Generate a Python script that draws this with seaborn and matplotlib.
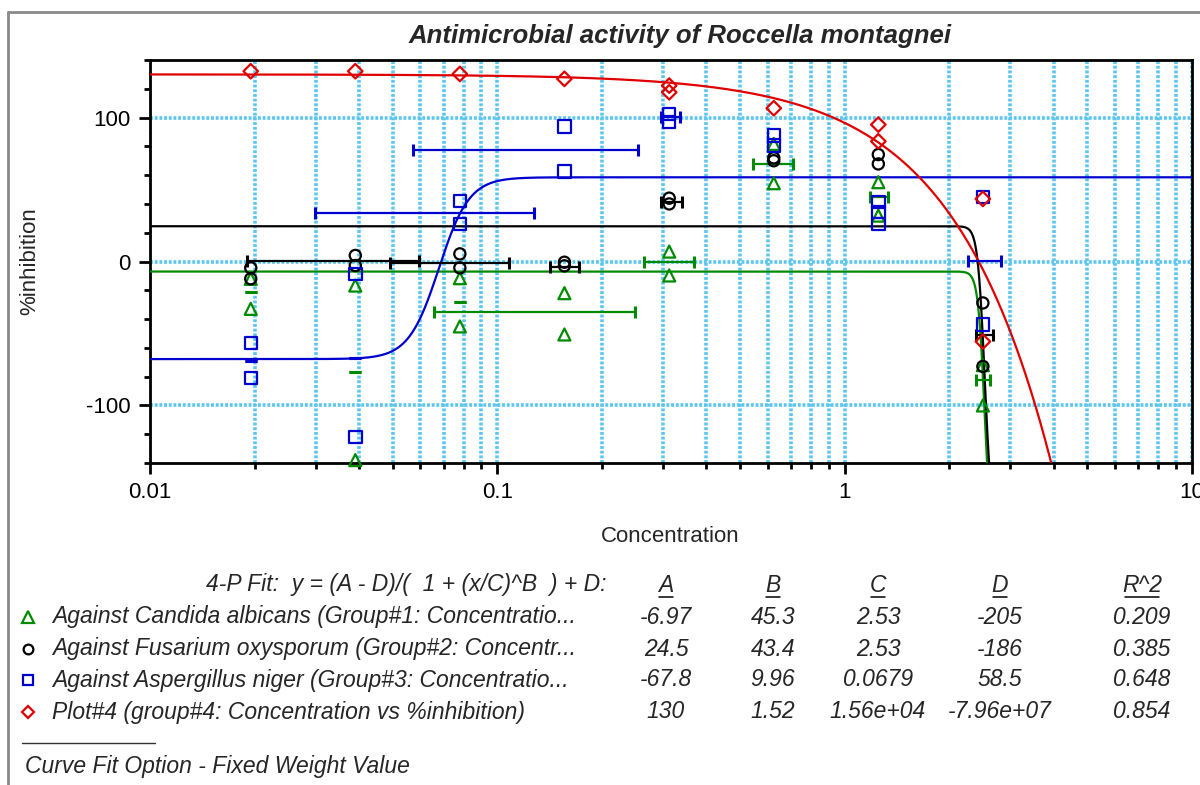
import numpy as np
import pandas as pd
import matplotlib
matplotlib.use("Agg")
import matplotlib.pyplot as plt
import seaborn as sns
from matplotlib.lines import Line2D
from matplotlib.ticker import FixedLocator, LogLocator, NullFormatter, MultipleLocator, FixedFormatter

# ---------------- data ----------------
candida_x = [0.0195, 0.0195, 0.039, 0.039, 0.078, 0.078, 0.156, 0.156,
             0.3125, 0.3125, 0.625, 0.625, 1.25, 1.25, 2.5, 2.5]
candida_y = [-12, -32.9, -16.7, -138, -11.6, -45.1, -22, -50.7,
             6.9, -9.7, 81.7, 54.4, 55.1, 31.9, -72, -100]

fusarium_x = [0.0195, 0.0195, 0.039, 0.039, 0.078, 0.078, 0.156, 0.156,
              0.3125, 0.3125, 0.625, 0.625, 1.25, 1.25, 2.5, 2.5]
fusarium_y = [-4.4, -12, 4.2, -2.8, 5.3, -4.4, -0.5, -3,
              44, 40, 72, 70, 74.3, 67.8, -28.8, -72.9]

asper_x = [0.0195, 0.0195, 0.039, 0.039, 0.078, 0.078, 0.156, 0.156,
           0.3125, 0.3125, 0.625, 0.625, 1.25, 1.25, 1.25, 2.5, 2.5]
asper_y = [-56.5, -81, -8.6, -122, 41.9, 26.2, 93.8, 62.5,
           102.5, 96.8, 87.5, 80.6, 41.2, 34.3, 26.2, 44.7, -43.8]

plot4_x = [0.0195, 0.039, 0.078, 0.156, 0.3125, 0.3125, 0.625, 1.25, 1.25, 2.5, 2.5]
plot4_y = [132.2, 132.2, 130.3, 126.9, 122.2, 117.6, 106.5, 95.1, 83.5, 43.5, -55.6]

# horizontal error bars: (x low, x high, y)
candida_bar_lo = [0.0658, 0.2641, 0.5442, 1.183, 2.39]
candida_bar_hi = [0.2487, 0.3679, 0.7096, 1.336, 2.62]
candida_bar_y = [-35.2, -0.5, 67.4, 44.7, -82.6]

fusarium_bar_lo = [0.01907, 0.04916, 0.1421, 0.295, 2.386]
fusarium_bar_hi = [0.05933, 0.1078, 0.1715, 0.3403, 2.665]
fusarium_bar_y = [0.2, -0.9, -3.5, 41.2, -51.4]

asper_bar_lo = [0.0573, 0.02988, 0.295, 2.26]
asper_bar_hi = [0.2549, 0.1272, 0.3366, 2.816]
asper_bar_y = [77.5, 33.5, 100.2, 0.2]

# zero-length vertical error bars (caps only)
candida_dash_x = [0.0195, 0.039, 0.078]
candida_dash_y = [-21.3, -76.9, -28]
asper_dash_x = [0.0195, 0.039]
asper_dash_y = [-68.8, -66.7]

# 4-parameter fit results
series_names = ["Against Candida albicans (Group#1: Concentratio...",
                "Against Fusarium oxysporum (Group#2: Concentr...",
                "Against Aspergillus niger (Group#3: Concentratio...",
                "Plot#4 (group#4: Concentration vs %inhibition)"]
fit_A = [-6.97, 24.5, -67.8, 130]
fit_B = [45.3, 43.4, 9.96, 1.52]
fit_C = [2.53, 2.53, 0.0679, 1.56e4]
fit_D = [-205, -186, 58.5, -7.96e7]
fit_R2 = [0.209, 0.385, 0.648, 0.854]
table_A = ["-6.97", "24.5", "-67.8", "130"]
table_B = ["45.3", "43.4", "9.96", "1.52"]
table_C = ["2.53", "2.53", "0.0679", "1.56e+04"]
table_D = ["-205", "-186", "58.5", "-7.96e+07"]
table_R2 = ["0.209", "0.385", "0.648", "0.854"]
table_headers = ["A", "B", "C", "D", "R^2"]

x_ticks = [0.01, 0.1, 1, 10]
x_ticklabels = ["0.01", "0.1", "1", "10"]
y_ticks = [-100, 0, 100]

# ---------------- style ----------------
sns.set_theme(style="white")
plt.rcParams["font.family"] = ["Liberation Sans", "DejaVu Sans"]
plt.rcParams["axes.unicode_minus"] = False

colors = ["#008a00", "#000000", "#0000d0", "#e00000"]
markers = ["^", "o", "s", "D"]
msizes = [75, 65, 80, 55]

W, H = 1200, 785
def fx(px):
    return px / W
def fy(py):
    return 1 - py / H

fig = plt.figure(figsize=(12, 7.85), dpi=100)
ax = fig.add_axes([fx(150), fy(463), fx(1192) - fx(150), fy(60) - fy(463)])

ax.set_xscale("log")
ax.set_xlim(0.01, 10)
ax.set_ylim(-140, 140)

grid_color = "#5cc6ee"
ax.set_axisbelow(True)
ax.grid(which="major", axis="both", color=grid_color, lw=2.6, ls=(0, (0.8, 0.5)))
ax.grid(which="minor", axis="x", color=grid_color, lw=2.6, ls=(0, (0.8, 0.5)))

# fitted curves
xs = np.logspace(-2, 1, 6000)
for i in range(4):
    ys = (fit_A[i] - fit_D[i]) / (1 + (xs / fit_C[i]) ** fit_B[i]) + fit_D[i]
    df = pd.DataFrame({"x": xs, "y": ys})
    df = df[df["y"] > -150]
    sns.lineplot(data=df, x="x", y="y", color=colors[i], lw=1.6, ax=ax,
                 estimator=None, sort=True, zorder=3)

# error bars
bars = [(candida_bar_lo, candida_bar_hi, candida_bar_y),
        (fusarium_bar_lo, fusarium_bar_hi, fusarium_bar_y),
        (asper_bar_lo, asper_bar_hi, asper_bar_y)]
for i, (lo, hi, yv) in enumerate(bars):
    lo = np.array(lo); hi = np.array(hi)
    xc = np.sqrt(lo * hi)
    ax.errorbar(xc, yv, xerr=[xc - lo, hi - xc], fmt="none", ecolor=colors[i],
                elinewidth=1.6, capsize=4, capthick=2.2, zorder=4)

ax.errorbar(candida_dash_x, candida_dash_y, yerr=0, fmt="none", ecolor=colors[0],
            elinewidth=1.5, capsize=4.5, capthick=2.2, zorder=4)
ax.errorbar(asper_dash_x, asper_dash_y, yerr=0, fmt="none", ecolor=colors[2],
            elinewidth=1.5, capsize=4.5, capthick=2.2, zorder=4)

# data points
point_sets = [(candida_x, candida_y), (fusarium_x, fusarium_y),
              (asper_x, asper_y), (plot4_x, plot4_y)]
for i, (px, py) in enumerate(point_sets):
    sns.scatterplot(x=px, y=py, marker=markers[i], s=msizes[i], ax=ax,
                    facecolor="none", edgecolor=colors[i], linewidth=1.6,
                    zorder=5, clip_on=False)

# axes cosmetics
for sp in ax.spines.values():
    sp.set_color("black")
    sp.set_linewidth(2)
    sp.set_visible(True)
ax.xaxis.set_major_locator(FixedLocator(x_ticks))
ax.xaxis.set_major_formatter(FixedFormatter(x_ticklabels))
ax.xaxis.set_minor_locator(LogLocator(base=10, subs=np.arange(2, 10)))
ax.xaxis.set_minor_formatter(NullFormatter())
ax.yaxis.set_major_locator(FixedLocator(y_ticks))
ax.yaxis.set_minor_locator(MultipleLocator(20))
ax.tick_params(which="major", direction="out", length=8, width=2, color="black",
               labelsize=16, labelcolor="black", bottom=True, left=True, pad=6)
ax.tick_params(which="minor", direction="out", length=4.5, width=2, color="black",
               bottom=True, left=True)
ax.set_xlabel("")
ax.set_ylabel("")

# titles / labels
fig.text(fx(680), fy(36), "Antimicrobial activity of Roccella montagnei",
         ha="center", va="center", fontsize=18.5, fontweight="bold", fontstyle="italic")
fig.text(fx(670), fy(536), "Concentration", ha="center", va="center", fontsize=16)
fig.text(fx(30), fy(261), "%inhibition", ha="center", va="center", fontsize=16, rotation=90)

# fit table
tfs = 16.5
fig.text(fx(606), fy(585), "4-P Fit:  y = (A - D)/(  1 + (x/C)^B  ) + D:", ha="right",
         va="center", fontsize=tfs, fontstyle="italic")
col_x = [666, 773, 878, 1000, 1142]
for cx, h in zip(col_x, table_headers):
    fig.text(fx(cx), fy(585), h, ha="center", va="center", fontsize=tfs, fontstyle="italic")
    hw = 7 if h != "R^2" else 17
    fig.add_artist(Line2D([fx(cx - hw), fx(cx + hw)], [fy(597), fy(597)], color="black",
                          lw=1.1, transform=fig.transFigure))
row_y = [617, 649, 680, 712]
cols = [table_A, table_B, table_C, table_D, table_R2]
for r in range(4):
    fig.add_artist(Line2D([fx(28)], [fy(row_y[r])], marker=markers[r], ms=[8, 7, 7.5, 6.5][r],
                          mfc="none", mec=colors[r], mew=1.6, ls="none",
                          transform=fig.transFigure))
    fig.text(fx(52), fy(row_y[r]), series_names[r], ha="left", va="center",
             fontsize=tfs, fontstyle="italic")
    for c in range(5):
        fig.text(fx(col_x[c]), fy(row_y[r]), cols[c][r], ha="center", va="center",
                 fontsize=tfs, fontstyle="italic")

fig.add_artist(Line2D([fx(22), fx(155)], [fy(743), fy(743)], color="#333333", lw=1,
                      transform=fig.transFigure))
fig.text(fx(25), fy(767), "Curve Fit Option - Fixed Weight Value", ha="left", va="center",
         fontsize=tfs, fontstyle="italic")

# outer frame
fig.add_artist(Line2D([fx(8), fx(1200)], [fy(12), fy(12)], color="#8a8a8a", lw=2,
                      transform=fig.transFigure))
fig.add_artist(Line2D([fx(8), fx(8)], [fy(12), fy(785)], color="#8a8a8a", lw=2,
                      transform=fig.transFigure))

fig.savefig("out.png", dpi=100)
